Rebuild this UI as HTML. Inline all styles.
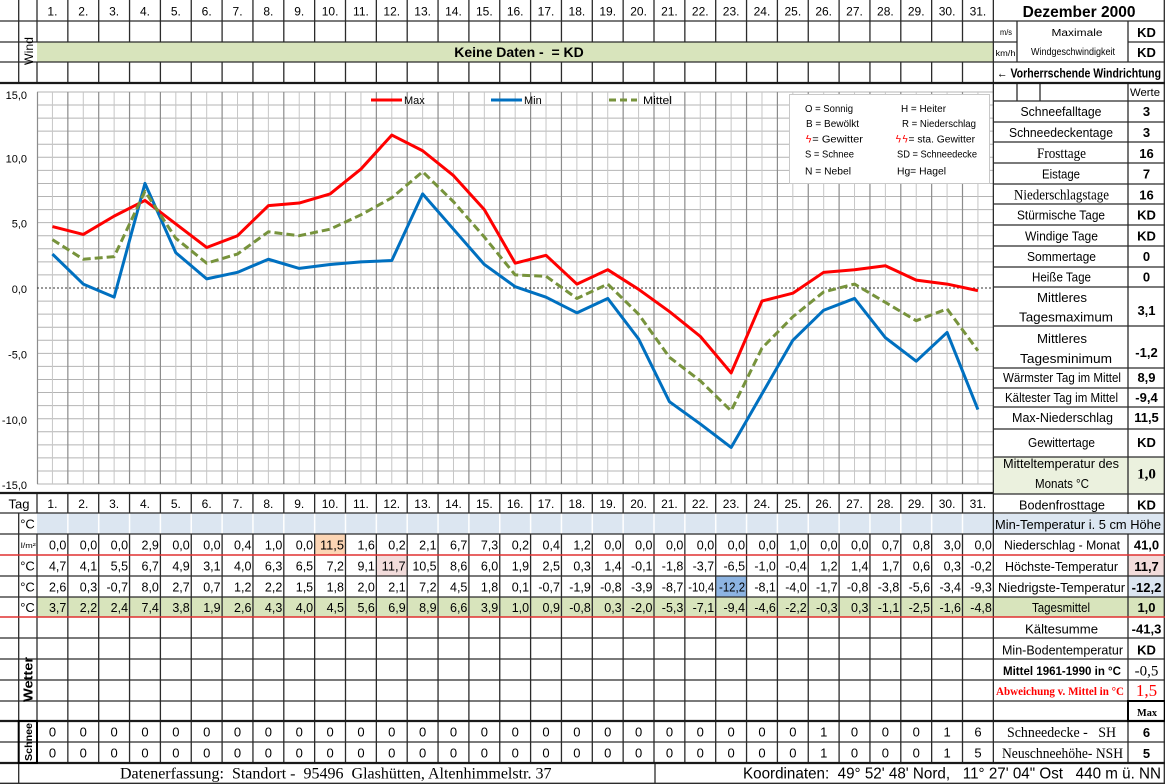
<!DOCTYPE html>
<html><head><meta charset="utf-8">
<style>
html,body{margin:0;padding:0;background:#fff;}
svg{display:block;}
text{font-family:"Liberation Sans",sans-serif;fill:#000;white-space:pre;}
.s{font-family:"Liberation Serif",serif;}
.b{font-weight:bold;}
</style></head><body>
<svg width="1165" height="784" viewBox="0 0 1165 784" xmlns="http://www.w3.org/2000/svg" xml:space="preserve">
<defs>
<path id="tv" d="M0 0V42M0 62V83M0 493V513M0 534V763" stroke="#2b2b2b" stroke-width="1.3" fill="none"/>
<path id="tw" d="M0 513.5V533.5" stroke="#ffffff" stroke-width="1.5" fill="none"/>
<path id="gmaj" d="M0 92V484" stroke="#8c8c8c" stroke-width="1.2" fill="none"/>
<path id="gmin" d="M0 92V484" stroke="#c6c6c6" stroke-width="1" fill="none"/>
<path id="gh" d="M37 0H993" stroke="#b4b4b4" stroke-width="1" fill="none"/>
</defs>

<rect x="37" y="42" width="956.35" height="20" fill="#d8e4bc"/>
<rect x="37" y="513" width="956.35" height="21" fill="#dce6f1"/>
<rect x="993.35" y="514" width="171.65" height="20" fill="#dce6f1"/>
<rect x="37" y="597" width="956.35" height="20" fill="#d8e4bc"/>
<rect x="993.35" y="597" width="171.65" height="20" fill="#d8e4bc"/>
<rect x="314.65" y="534" width="30.85" height="21" fill="#fcd5b4"/>
<rect x="376.35" y="555" width="30.85" height="21" fill="#f2dcdb"/>
<rect x="715.7" y="576" width="30.85" height="21" fill="#8db4e2"/>
<rect x="1128" y="555" width="37" height="21" fill="#f2dcdb"/>
<rect x="1128" y="576" width="37" height="21" fill="#dce6f1"/>
<rect x="993.35" y="457" width="171.65" height="37" fill="#ebf1de"/>

<g>
<use href="#gh" y="91.95"/><use href="#gh" y="105.02"/><use href="#gh" y="118.09"/><use href="#gh" y="131.16"/><use href="#gh" y="144.23"/><use href="#gh" y="157.3"/><use href="#gh" y="170.37"/><use href="#gh" y="183.44"/><use href="#gh" y="196.51"/><use href="#gh" y="209.58"/><use href="#gh" y="222.65"/><use href="#gh" y="235.72"/><use href="#gh" y="248.79"/><use href="#gh" y="261.86"/><use href="#gh" y="274.93"/><use href="#gh" y="301.07"/><use href="#gh" y="314.14"/><use href="#gh" y="327.21"/><use href="#gh" y="340.28"/><use href="#gh" y="353.35"/><use href="#gh" y="366.42"/><use href="#gh" y="379.49"/><use href="#gh" y="392.56"/><use href="#gh" y="405.63"/><use href="#gh" y="418.7"/><use href="#gh" y="431.77"/><use href="#gh" y="444.84"/><use href="#gh" y="457.91"/><use href="#gh" y="470.98"/><use href="#gh" y="484.05"/>
<use href="#gmin" x="52.43"/><use href="#gmin" x="83.28"/><use href="#gmin" x="114.13"/><use href="#gmin" x="144.98"/><use href="#gmin" x="175.83"/><use href="#gmin" x="206.68"/><use href="#gmin" x="237.53"/><use href="#gmin" x="268.38"/><use href="#gmin" x="299.23"/><use href="#gmin" x="330.08"/><use href="#gmin" x="360.93"/><use href="#gmin" x="391.78"/><use href="#gmin" x="422.63"/><use href="#gmin" x="453.48"/><use href="#gmin" x="484.33"/><use href="#gmin" x="515.18"/><use href="#gmin" x="546.03"/><use href="#gmin" x="576.88"/><use href="#gmin" x="607.73"/><use href="#gmin" x="638.58"/><use href="#gmin" x="669.43"/><use href="#gmin" x="700.28"/><use href="#gmin" x="731.13"/><use href="#gmin" x="761.98"/><use href="#gmin" x="792.83"/><use href="#gmin" x="823.68"/><use href="#gmin" x="854.53"/><use href="#gmin" x="885.38"/><use href="#gmin" x="916.23"/><use href="#gmin" x="947.08"/><use href="#gmin" x="977.93"/>
<use href="#gmaj" x="37.5"/><use href="#gmaj" x="67.85"/><use href="#gmaj" x="98.7"/><use href="#gmaj" x="129.55"/><use href="#gmaj" x="160.4"/><use href="#gmaj" x="191.25"/><use href="#gmaj" x="222.1"/><use href="#gmaj" x="252.95"/><use href="#gmaj" x="283.8"/><use href="#gmaj" x="314.65"/><use href="#gmaj" x="345.5"/><use href="#gmaj" x="376.35"/><use href="#gmaj" x="407.2"/><use href="#gmaj" x="438.05"/><use href="#gmaj" x="468.9"/><use href="#gmaj" x="499.75"/><use href="#gmaj" x="530.6"/><use href="#gmaj" x="561.45"/><use href="#gmaj" x="592.3"/><use href="#gmaj" x="623.15"/><use href="#gmaj" x="654"/><use href="#gmaj" x="684.85"/><use href="#gmaj" x="715.7"/><use href="#gmaj" x="746.55"/><use href="#gmaj" x="777.4"/><use href="#gmaj" x="808.25"/><use href="#gmaj" x="839.1"/><use href="#gmaj" x="869.95"/><use href="#gmaj" x="900.8"/><use href="#gmaj" x="931.65"/><use href="#gmaj" x="962.5"/>
</g>
<path d="M37 288H993" stroke="#333" stroke-width="1" stroke-dasharray="2 2" fill="none"/>

<g font-size="11" text-anchor="end" fill="#222">
<text x="27" y="99">15,0</text>
<text x="27" y="162.5">10,0</text>
<text x="27" y="227.5">5,0</text>
<text x="27" y="293">0,0</text>
<text x="27" y="358.5">-5,0</text>
<text x="27" y="424">-10,0</text>
<text x="27" y="489">-15,0</text>
</g>

<path d="M371 100H402" stroke="#ff0000" stroke-width="3"/>
<text x="404" y="104" font-size="11">Max</text>
<path d="M491 100H522" stroke="#0070c0" stroke-width="3"/>
<text x="524" y="104" font-size="11">Min</text>
<path d="M609 100H637" stroke="#77933c" stroke-width="3" stroke-dasharray="7 4"/>
<text x="643" y="104" font-size="11" textLength="29" lengthAdjust="spacingAndGlyphs">Mittel</text>

<rect x="789.5" y="94.5" width="200" height="89" fill="#fff" stroke="#c8c8c8" stroke-width="1"/>
<g font-size="10">
<text x="805" y="112" textLength="48" lengthAdjust="spacingAndGlyphs">O = Sonnig</text>
<text x="901" y="112" textLength="45" lengthAdjust="spacingAndGlyphs">H = Heiter</text>
<text x="806" y="127" textLength="53" lengthAdjust="spacingAndGlyphs">B = Bewölkt</text>
<text x="902" y="127" textLength="74" lengthAdjust="spacingAndGlyphs">R = Niederschlag</text>
<text x="805" y="142.5" textLength="58" lengthAdjust="spacingAndGlyphs"><tspan style="fill:#ff0000" font-family="DejaVu Sans">ϟ</tspan>= Gewitter</text>
<text x="895" y="142.5" textLength="80" lengthAdjust="spacingAndGlyphs"><tspan style="fill:#ff0000" font-family="DejaVu Sans">ϟϟ</tspan>= sta. Gewitter</text>
<text x="805" y="157.5" textLength="49" lengthAdjust="spacingAndGlyphs">S = Schnee</text>
<text x="897" y="157.5" textLength="80" lengthAdjust="spacingAndGlyphs">SD = Schneedecke</text>
<text x="805" y="174.5" textLength="46" lengthAdjust="spacingAndGlyphs">N = Nebel</text>
<text x="897" y="174.5" textLength="49" lengthAdjust="spacingAndGlyphs">Hg= Hagel</text>
</g>

<polyline fill="none" stroke="#ff0000" stroke-width="3" stroke-linejoin="round" points="52.43,226.57 83.28,234.41 114.13,216.11 144.98,200.43 175.83,223.96 206.68,247.48 237.53,235.72 268.38,205.66 299.23,203.04 330.08,193.9 360.93,169.06 391.78,135.08 422.63,150.76 453.48,175.6 484.33,209.58 515.18,263.17 546.03,255.32 576.88,284.08 607.73,269.7 638.58,289.31 669.43,311.53 700.28,336.36 731.13,372.96 761.98,301.07 792.83,293.23 823.68,272.32 854.53,269.7 885.38,265.78 916.23,280.16 947.08,284.08 977.93,290.61"/>
<polyline fill="none" stroke="#0070c0" stroke-width="3" stroke-linejoin="round" points="52.43,254.02 83.28,284.08 114.13,297.15 144.98,183.44 175.83,252.71 206.68,278.85 237.53,272.32 268.38,259.25 299.23,268.39 330.08,264.47 360.93,261.86 391.78,260.55 422.63,193.9 453.48,229.18 484.33,264.47 515.18,286.69 546.03,297.15 576.88,312.83 607.73,298.46 638.58,338.97 669.43,401.71 700.28,423.93 731.13,447.45 761.98,393.87 792.83,340.28 823.68,310.22 854.53,298.46 885.38,337.67 916.23,361.19 947.08,332.44 977.93,409.55"/>
<polyline fill="none" stroke="#77933c" stroke-width="3" stroke-dasharray="8 4" stroke-linejoin="round" points="52.43,239.64 83.28,259.25 114.13,256.63 144.98,191.28 175.83,238.33 206.68,263.17 237.53,254.02 268.38,231.8 299.23,235.72 330.08,229.18 360.93,214.81 391.78,197.82 422.63,171.68 453.48,201.74 484.33,237.03 515.18,274.93 546.03,276.24 576.88,298.46 607.73,284.08 638.58,314.14 669.43,357.27 700.28,380.8 731.13,410.86 761.98,348.12 792.83,316.75 823.68,291.92 854.53,284.08 885.38,302.38 916.23,320.68 947.08,308.91 977.93,350.74"/>

<use href="#tv" x="37"/><use href="#tv" x="67.85"/><use href="#tv" x="98.7"/><use href="#tv" x="129.55"/><use href="#tv" x="160.4"/><use href="#tv" x="191.25"/><use href="#tv" x="222.1"/><use href="#tv" x="252.95"/><use href="#tv" x="283.8"/><use href="#tv" x="314.65"/><use href="#tv" x="345.5"/><use href="#tv" x="376.35"/><use href="#tv" x="407.2"/><use href="#tv" x="438.05"/><use href="#tv" x="468.9"/><use href="#tv" x="499.75"/><use href="#tv" x="530.6"/><use href="#tv" x="561.45"/><use href="#tv" x="592.3"/><use href="#tv" x="623.15"/><use href="#tv" x="654"/><use href="#tv" x="684.85"/><use href="#tv" x="715.7"/><use href="#tv" x="746.55"/><use href="#tv" x="777.4"/><use href="#tv" x="808.25"/><use href="#tv" x="839.1"/><use href="#tv" x="869.95"/><use href="#tv" x="900.8"/><use href="#tv" x="931.65"/><use href="#tv" x="962.5"/>
<use href="#tw" x="67.85"/><use href="#tw" x="98.7"/><use href="#tw" x="129.55"/><use href="#tw" x="160.4"/><use href="#tw" x="191.25"/><use href="#tw" x="222.1"/><use href="#tw" x="252.95"/><use href="#tw" x="283.8"/><use href="#tw" x="314.65"/><use href="#tw" x="345.5"/><use href="#tw" x="376.35"/><use href="#tw" x="407.2"/><use href="#tw" x="438.05"/><use href="#tw" x="468.9"/><use href="#tw" x="499.75"/><use href="#tw" x="530.6"/><use href="#tw" x="561.45"/><use href="#tw" x="592.3"/><use href="#tw" x="623.15"/><use href="#tw" x="654"/><use href="#tw" x="684.85"/><use href="#tw" x="715.7"/><use href="#tw" x="746.55"/><use href="#tw" x="777.4"/><use href="#tw" x="808.25"/><use href="#tw" x="839.1"/><use href="#tw" x="869.95"/><use href="#tw" x="900.8"/><use href="#tw" x="931.65"/><use href="#tw" x="962.5"/>

<path d="M18.7 0V83M18.7 513V784M993.35 0V763M1128 21V62M1017 21V62M1017 82V101M1040 82V101M1128 82V514M1128 534V763M655 763V784M1164.3 0V784" stroke="#2b2b2b" stroke-width="1.3" fill="none"/>

<path d="M0 21H1165M0 42H1017M1128 42H1165M0 62H1165M993 101H1165M993 122H1165M993 142H1165M993 163H1165M993 184H1165M993 204H1165M993 225H1165M993 246H1165M993 267H1165M993 287H1165M993 326H1165M993 368H1165M993 388H1165M993 407H1165M993 429H1165M993 457H1165M993 494H1165M0 513H1165M0 534H1165M0 576H1165M0 597H1165M0 638H1165M0 659H1165M0 680H1165M0 701H1165M0 742H1165M0 783.3H1165" stroke="#2b2b2b" stroke-width="1.3" fill="none"/>
<path d="M0 83H1165M0 493H993M0 721H1165M0 763H1165" stroke="#1a1a1a" stroke-width="2.2" fill="none"/>
<path d="M0 555H1165M0 617H1165" stroke="#e03030" stroke-width="1.4" fill="none"/>
<rect x="1128" y="701" width="37" height="20" fill="none" stroke="#000" stroke-width="2"/>
<rect x="18.7" y="721" width="18.3" height="42" fill="none" stroke="#000" stroke-width="2"/>

<text y="15.5" font-size="12" text-anchor="middle"><tspan x="52.43">1.</tspan><tspan x="83.28">2.</tspan><tspan x="114.13">3.</tspan><tspan x="144.98">4.</tspan><tspan x="175.83">5.</tspan><tspan x="206.68">6.</tspan><tspan x="237.53">7.</tspan><tspan x="268.38">8.</tspan><tspan x="299.23">9.</tspan><tspan x="330.08">10.</tspan><tspan x="360.93">11.</tspan><tspan x="391.78">12.</tspan><tspan x="422.63">13.</tspan><tspan x="453.48">14.</tspan><tspan x="484.33">15.</tspan><tspan x="515.18">16.</tspan><tspan x="546.03">17.</tspan><tspan x="576.88">18.</tspan><tspan x="607.73">19.</tspan><tspan x="638.58">20.</tspan><tspan x="669.43">21.</tspan><tspan x="700.28">22.</tspan><tspan x="731.13">23.</tspan><tspan x="761.98">24.</tspan><tspan x="792.83">25.</tspan><tspan x="823.68">26.</tspan><tspan x="854.53">27.</tspan><tspan x="885.38">28.</tspan><tspan x="916.23">29.</tspan><tspan x="947.08">30.</tspan><tspan x="977.93">31.</tspan></text>

<text transform="translate(28.5,51) rotate(-90)" y="4.5" font-size="12" text-anchor="middle" textLength="28" lengthAdjust="spacingAndGlyphs">Wind</text>
<text x="519" y="57" font-size="14" class="b" text-anchor="middle">Keine Daten -  = KD</text>

<text x="1079" y="17" font-size="15.5" class="b" text-anchor="middle">Dezember 2000</text>
<text x="1006" y="35" font-size="8" text-anchor="middle" textLength="12" lengthAdjust="spacingAndGlyphs">m/s</text>
<text x="1005.5" y="56" font-size="8" text-anchor="middle" textLength="20" lengthAdjust="spacingAndGlyphs">km/h</text>
<text x="1077" y="36" font-size="10" text-anchor="middle" textLength="51" lengthAdjust="spacingAndGlyphs">Maximale</text>
<text x="1073" y="55" font-size="10" text-anchor="middle" textLength="84" lengthAdjust="spacingAndGlyphs">Windgeschwindigkeit</text>
<text x="1146.5" y="37" font-size="13" class="b" text-anchor="middle">KD</text>
<text x="1146.5" y="57" font-size="13" class="b" text-anchor="middle">KD</text>
<text x="1079" y="77.5" font-size="13" class="b" text-anchor="middle" textLength="164" lengthAdjust="spacingAndGlyphs">← Vorherrschende Windrichtung</text>
<text x="1145" y="96" font-size="11" text-anchor="middle" textLength="30" lengthAdjust="spacingAndGlyphs">Werte</text>

<g font-size="13" text-anchor="middle">
<text x="1061" y="116" textLength="81" lengthAdjust="spacingAndGlyphs">Schneefalltage</text>
<text x="1061" y="137" textLength="104" lengthAdjust="spacingAndGlyphs">Schneedeckentage</text>
<text x="1061.5" y="158" class="s" font-size="15" textLength="49" lengthAdjust="spacingAndGlyphs">Frosttage</text>
<text x="1061" y="178.5" textLength="38" lengthAdjust="spacingAndGlyphs">Eistage</text>
<text x="1061.5" y="199.5" class="s" font-size="15" textLength="95" lengthAdjust="spacingAndGlyphs">Niederschlagstage</text>
<text x="1061" y="219.5" textLength="88" lengthAdjust="spacingAndGlyphs">Stürmische Tage</text>
<text x="1061.5" y="240.5" textLength="73" lengthAdjust="spacingAndGlyphs">Windige Tage</text>
<text x="1061.5" y="261" textLength="69" lengthAdjust="spacingAndGlyphs">Sommertage</text>
<text x="1061.5" y="281.5" textLength="59" lengthAdjust="spacingAndGlyphs">Heiße Tage</text>
<text x="1062" y="302" textLength="50" lengthAdjust="spacingAndGlyphs">Mittleres</text>
<text x="1066" y="321.5" textLength="94" lengthAdjust="spacingAndGlyphs">Tagesmaximum</text>
<text x="1062" y="343" textLength="50" lengthAdjust="spacingAndGlyphs">Mittleres</text>
<text x="1066" y="363" textLength="92" lengthAdjust="spacingAndGlyphs">Tagesminimum</text>
<text x="1062" y="382" textLength="118" lengthAdjust="spacingAndGlyphs">Wärmster Tag im Mittel</text>
<text x="1061.5" y="402" textLength="113" lengthAdjust="spacingAndGlyphs">Kältester Tag im Mittel</text>
<text x="1062.5" y="422" textLength="101" lengthAdjust="spacingAndGlyphs">Max-Niederschlag</text>
<text x="1061.5" y="447" textLength="67" lengthAdjust="spacingAndGlyphs">Gewittertage</text>
<text x="1061" y="468" textLength="116" lengthAdjust="spacingAndGlyphs">Mitteltemperatur des</text>
<text x="1062" y="488" textLength="54" lengthAdjust="spacingAndGlyphs">Monats °C</text>
<text x="1062" y="509.5" textLength="86" lengthAdjust="spacingAndGlyphs">Bodenfrosttage</text>
<text x="1078" y="529" textLength="166" lengthAdjust="spacingAndGlyphs">Min-Temperatur i. 5 cm Höhe</text>
<text x="1062" y="549.5" textLength="116" lengthAdjust="spacingAndGlyphs">Niederschlag - Monat</text>
<text x="1061.5" y="571" textLength="113" lengthAdjust="spacingAndGlyphs">Höchste-Temperatur</text>
<text x="1061.5" y="592" textLength="127" lengthAdjust="spacingAndGlyphs">Niedrigste-Temperatur</text>
<text x="1061" y="612" textLength="58" lengthAdjust="spacingAndGlyphs">Tagesmittel</text>
<text x="1061.5" y="633.5" textLength="73" lengthAdjust="spacingAndGlyphs">Kältesumme</text>
<text x="1062.5" y="654.5" textLength="121" lengthAdjust="spacingAndGlyphs">Min-Bodentemperatur</text>
<text x="1062" y="675" font-size="11.5" class="b" textLength="118" lengthAdjust="spacingAndGlyphs">Mittel 1961-1990 in °C</text>
<text x="1060" y="695" font-size="11.5" class="b s" style="fill:#ff0000" textLength="128" lengthAdjust="spacingAndGlyphs">Abweichung v. Mittel in °C</text>
<text x="1147" y="716" font-size="11" class="b s" textLength="20" lengthAdjust="spacingAndGlyphs">Max</text>
<text x="1061.5" y="737" class="s" font-size="15" textLength="109" lengthAdjust="spacingAndGlyphs">Schneedecke -   SH</text>
<text x="1062.5" y="758" class="s" font-size="15" textLength="121" lengthAdjust="spacingAndGlyphs">Neuschneehöhe- NSH</text>
</g>

<g font-size="13" class="b" text-anchor="middle">
<text x="1146.5" y="116">3</text>
<text x="1146.5" y="137">3</text>
<text x="1146.5" y="158">16</text>
<text x="1146.5" y="178.5">7</text>
<text x="1146.5" y="199.5">16</text>
<text x="1146.5" y="219.5">KD</text>
<text x="1146.5" y="240.5">KD</text>
<text x="1146.5" y="261">0</text>
<text x="1146.5" y="281.5">0</text>
<text x="1146.5" y="315">3,1</text>
<text x="1146.5" y="357">-1,2</text>
<text x="1146.5" y="382">8,9</text>
<text x="1146.5" y="402">-9,4</text>
<text x="1146.5" y="422">11,5</text>
<text x="1146.5" y="447">KD</text>
<text x="1146.5" y="478.5" class="s" font-size="15">1,0</text>
<text x="1146.5" y="509.5">KD</text>
<text x="1146.5" y="549.5">41,0</text>
<text x="1146.5" y="571">11,7</text>
<text x="1146.5" y="592">-12,2</text>
<text x="1146.5" y="612">1,0</text>
<text x="1146.5" y="633.5">-41,3</text>
<text x="1146.5" y="654.5">KD</text>
<text x="1146.5" y="737">6</text>
<text x="1146.5" y="758">5</text>
</g>
<text x="1146.5" y="675.5" font-size="15" class="s" text-anchor="middle">-0,5</text>
<text x="1146.5" y="696" font-size="17" class="s" text-anchor="middle" style="fill:#ff0000">1,5</text>

<text x="19" y="508.5" font-size="13" text-anchor="middle">Tag</text>
<text y="508" font-size="12" text-anchor="middle"><tspan x="52.43">1.</tspan><tspan x="83.28">2.</tspan><tspan x="114.13">3.</tspan><tspan x="144.98">4.</tspan><tspan x="175.83">5.</tspan><tspan x="206.68">6.</tspan><tspan x="237.53">7.</tspan><tspan x="268.38">8.</tspan><tspan x="299.23">9.</tspan><tspan x="330.08">10.</tspan><tspan x="360.93">11.</tspan><tspan x="391.78">12.</tspan><tspan x="422.63">13.</tspan><tspan x="453.48">14.</tspan><tspan x="484.33">15.</tspan><tspan x="515.18">16.</tspan><tspan x="546.03">17.</tspan><tspan x="576.88">18.</tspan><tspan x="607.73">19.</tspan><tspan x="638.58">20.</tspan><tspan x="669.43">21.</tspan><tspan x="700.28">22.</tspan><tspan x="731.13">23.</tspan><tspan x="761.98">24.</tspan><tspan x="792.83">25.</tspan><tspan x="823.68">26.</tspan><tspan x="854.53">27.</tspan><tspan x="885.38">28.</tspan><tspan x="916.23">29.</tspan><tspan x="947.08">30.</tspan><tspan x="977.93">31.</tspan></text>

<g font-size="13" text-anchor="middle">
<text x="27.5" y="528.5">°C</text>
<text x="27.5" y="570.5">°C</text>
<text x="27.5" y="591.5">°C</text>
<text x="27.5" y="612">°C</text>
</g>
<text x="28.3" y="548" font-size="7.5" text-anchor="middle" textLength="15" lengthAdjust="spacingAndGlyphs">l/m²</text>

<g font-size="12.5" text-anchor="end">
<text y="549.5"><tspan x="66.35">0,0</tspan><tspan x="97.2">0,0</tspan><tspan x="128.05">0,0</tspan><tspan x="158.9">2,9</tspan><tspan x="189.75">0,0</tspan><tspan x="220.6">0,0</tspan><tspan x="251.45">0,4</tspan><tspan x="282.3">1,0</tspan><tspan x="313.15">0,0</tspan><tspan x="344" textLength="24" lengthAdjust="spacingAndGlyphs">11,5</tspan><tspan x="374.85">1,6</tspan><tspan x="405.7">0,2</tspan><tspan x="436.55">2,1</tspan><tspan x="467.4">6,7</tspan><tspan x="498.25">7,3</tspan><tspan x="529.1">0,2</tspan><tspan x="559.95">0,4</tspan><tspan x="590.8">1,2</tspan><tspan x="621.65">0,0</tspan><tspan x="652.5">0,0</tspan><tspan x="683.35">0,0</tspan><tspan x="714.2">0,0</tspan><tspan x="745.05">0,0</tspan><tspan x="775.9">0,0</tspan><tspan x="806.75">1,0</tspan><tspan x="837.6">0,0</tspan><tspan x="868.45">0,0</tspan><tspan x="899.3">0,7</tspan><tspan x="930.15">0,8</tspan><tspan x="961">3,0</tspan><tspan x="991.85">0,0</tspan></text>
<text y="570.5"><tspan x="66.35">4,7</tspan><tspan x="97.2">4,1</tspan><tspan x="128.05">5,5</tspan><tspan x="158.9">6,7</tspan><tspan x="189.75">4,9</tspan><tspan x="220.6">3,1</tspan><tspan x="251.45">4,0</tspan><tspan x="282.3">6,3</tspan><tspan x="313.15">6,5</tspan><tspan x="344">7,2</tspan><tspan x="374.85">9,1</tspan><tspan x="405.7" textLength="24" lengthAdjust="spacingAndGlyphs">11,7</tspan><tspan x="436.55" textLength="24" lengthAdjust="spacingAndGlyphs">10,5</tspan><tspan x="467.4">8,6</tspan><tspan x="498.25">6,0</tspan><tspan x="529.1">1,9</tspan><tspan x="559.95">2,5</tspan><tspan x="590.8">0,3</tspan><tspan x="621.65">1,4</tspan><tspan x="652.5">-0,1</tspan><tspan x="683.35">-1,8</tspan><tspan x="714.2">-3,7</tspan><tspan x="745.05">-6,5</tspan><tspan x="775.9">-1,0</tspan><tspan x="806.75">-0,4</tspan><tspan x="837.6">1,2</tspan><tspan x="868.45">1,4</tspan><tspan x="899.3">1,7</tspan><tspan x="930.15">0,6</tspan><tspan x="961">0,3</tspan><tspan x="991.85">-0,2</tspan></text>
<text y="591.5"><tspan x="66.35">2,6</tspan><tspan x="97.2">0,3</tspan><tspan x="128.05">-0,7</tspan><tspan x="158.9">8,0</tspan><tspan x="189.75">2,7</tspan><tspan x="220.6">0,7</tspan><tspan x="251.45">1,2</tspan><tspan x="282.3">2,2</tspan><tspan x="313.15">1,5</tspan><tspan x="344">1,8</tspan><tspan x="374.85">2,0</tspan><tspan x="405.7">2,1</tspan><tspan x="436.55">7,2</tspan><tspan x="467.4">4,5</tspan><tspan x="498.25">1,8</tspan><tspan x="529.1">0,1</tspan><tspan x="559.95">-0,7</tspan><tspan x="590.8">-1,9</tspan><tspan x="621.65">-0,8</tspan><tspan x="652.5">-3,9</tspan><tspan x="683.35">-8,7</tspan><tspan x="714.2" textLength="26" lengthAdjust="spacingAndGlyphs">-10,4</tspan><tspan x="745.05" textLength="26" lengthAdjust="spacingAndGlyphs">-12,2</tspan><tspan x="775.9">-8,1</tspan><tspan x="806.75">-4,0</tspan><tspan x="837.6">-1,7</tspan><tspan x="868.45">-0,8</tspan><tspan x="899.3">-3,8</tspan><tspan x="930.15">-5,6</tspan><tspan x="961">-3,4</tspan><tspan x="991.85">-9,3</tspan></text>
<text y="612"><tspan x="66.35">3,7</tspan><tspan x="97.2">2,2</tspan><tspan x="128.05">2,4</tspan><tspan x="158.9">7,4</tspan><tspan x="189.75">3,8</tspan><tspan x="220.6">1,9</tspan><tspan x="251.45">2,6</tspan><tspan x="282.3">4,3</tspan><tspan x="313.15">4,0</tspan><tspan x="344">4,5</tspan><tspan x="374.85">5,6</tspan><tspan x="405.7">6,9</tspan><tspan x="436.55">8,9</tspan><tspan x="467.4">6,6</tspan><tspan x="498.25">3,9</tspan><tspan x="529.1">1,0</tspan><tspan x="559.95">0,9</tspan><tspan x="590.8">-0,8</tspan><tspan x="621.65">0,3</tspan><tspan x="652.5">-2,0</tspan><tspan x="683.35">-5,3</tspan><tspan x="714.2">-7,1</tspan><tspan x="745.05">-9,4</tspan><tspan x="775.9">-4,6</tspan><tspan x="806.75">-2,2</tspan><tspan x="837.6">-0,3</tspan><tspan x="868.45">0,3</tspan><tspan x="899.3">-1,1</tspan><tspan x="930.15">-2,5</tspan><tspan x="961">-1,6</tspan><tspan x="991.85">-4,8</tspan></text>
</g>

<text transform="translate(28,679.5) rotate(-90)" y="4.5" font-size="13" class="b" text-anchor="middle" textLength="45" lengthAdjust="spacingAndGlyphs">Wetter</text>
<text transform="translate(28,742) rotate(-90)" y="4" font-size="10.5" class="b" text-anchor="middle" textLength="38" lengthAdjust="spacingAndGlyphs">Schnee</text>

<g font-size="13" text-anchor="middle">
<text y="736.5"><tspan x="52.43">0</tspan><tspan x="83.28">0</tspan><tspan x="114.13">0</tspan><tspan x="144.98">0</tspan><tspan x="175.83">0</tspan><tspan x="206.68">0</tspan><tspan x="237.53">0</tspan><tspan x="268.38">0</tspan><tspan x="299.23">0</tspan><tspan x="330.08">0</tspan><tspan x="360.93">0</tspan><tspan x="391.78">0</tspan><tspan x="422.63">0</tspan><tspan x="453.48">0</tspan><tspan x="484.33">0</tspan><tspan x="515.18">0</tspan><tspan x="546.03">0</tspan><tspan x="576.88">0</tspan><tspan x="607.73">0</tspan><tspan x="638.58">0</tspan><tspan x="669.43">0</tspan><tspan x="700.28">0</tspan><tspan x="731.13">0</tspan><tspan x="761.98">0</tspan><tspan x="792.83">0</tspan><tspan x="823.68">1</tspan><tspan x="854.53">0</tspan><tspan x="885.38">0</tspan><tspan x="916.23">0</tspan><tspan x="947.08">1</tspan><tspan x="977.93">6</tspan></text>
<text y="757.5"><tspan x="52.43">0</tspan><tspan x="83.28">0</tspan><tspan x="114.13">0</tspan><tspan x="144.98">0</tspan><tspan x="175.83">0</tspan><tspan x="206.68">0</tspan><tspan x="237.53">0</tspan><tspan x="268.38">0</tspan><tspan x="299.23">0</tspan><tspan x="330.08">0</tspan><tspan x="360.93">0</tspan><tspan x="391.78">0</tspan><tspan x="422.63">0</tspan><tspan x="453.48">0</tspan><tspan x="484.33">0</tspan><tspan x="515.18">0</tspan><tspan x="546.03">0</tspan><tspan x="576.88">0</tspan><tspan x="607.73">0</tspan><tspan x="638.58">0</tspan><tspan x="669.43">0</tspan><tspan x="700.28">0</tspan><tspan x="731.13">0</tspan><tspan x="761.98">0</tspan><tspan x="792.83">0</tspan><tspan x="823.68">1</tspan><tspan x="854.53">0</tspan><tspan x="885.38">0</tspan><tspan x="916.23">0</tspan><tspan x="947.08">1</tspan><tspan x="977.93">5</tspan></text>
</g>

<text x="120" y="778.5" font-size="16" class="s">Datenerfassung:  Standort -  95496  Glashütten, Altenhimmelstr. 37</text>
<text x="743" y="778.5" font-size="16" textLength="418" lengthAdjust="spacingAndGlyphs">Koordinaten:  49° 52' 48' Nord,   11° 27' 04" Ost   440 m ü. NN</text>
</svg>
</body></html>
